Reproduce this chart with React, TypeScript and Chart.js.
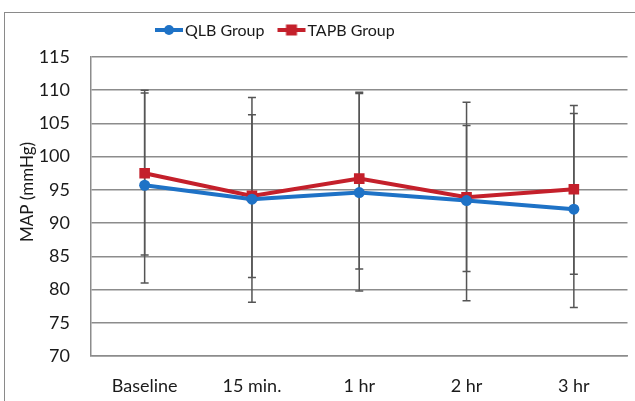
import React, { useEffect, useRef } from "react";
import { Chart, registerables } from "chart.js";

Chart.register(...registerables);

const categories = ["Baseline", "15 min.", "1 hr", "2 hr", "3 hr"];
const qlbMean = [95.7, 93.6, 94.6, 93.4, 92.1];
const qlbLow = [81.0, 78.1, 79.8, 78.3, 77.3];
const qlbHigh = [110.0, 108.9, 109.5, 108.2, 107.7];
const tapbMean = [97.5, 94.1, 96.7, 93.9, 95.1];
const tapbLow = [85.2, 81.8, 83.1, 82.7, 82.3];
const tapbHigh = [109.6, 106.3, 109.7, 104.7, 106.5];
const yTicks = [70, 75, 80, 85, 90, 95, 100, 105, 110, 115];
const yTitle = "MAP (mmHg)";
const legendLabels = ["QLB Group", "TAPB Group"];

const BLUE = "#1E72C6";
const RED = "#C4202B";
const FONT = "Lato";

function makeIcon(color: string, shape: "circle" | "square") {
  const c = document.createElement("canvas");
  c.width = 30;
  c.height = 14;
  const ctx = c.getContext("2d")!;
  ctx.strokeStyle = color;
  ctx.lineWidth = 4;
  ctx.beginPath();
  ctx.moveTo(1, 7);
  ctx.lineTo(29, 7);
  ctx.stroke();
  ctx.fillStyle = color;
  if (shape === "circle") {
    ctx.beginPath();
    ctx.arc(15, 7, 5, 0, Math.PI * 2);
    ctx.fill();
  } else {
    ctx.fillRect(9.5, 1.5, 11, 11);
  }
  return c;
}

const errorBarPlugin = {
  id: "errorBars",
  beforeDatasetsDraw(chart: any) {
    const ctx = chart.ctx;
    const x = chart.scales.x;
    const y = chart.scales.y;
    const sets = [
      [qlbLow, qlbHigh],
      [tapbLow, tapbHigh],
    ];
    ctx.save();
    ctx.strokeStyle = "#555555";
    ctx.lineWidth = 1.5;
    sets.forEach(([lo, hi]) => {
      categories.forEach((_, i) => {
        const px = x.getPixelForValue(i);
        const y1 = y.getPixelForValue(lo[i]);
        const y2 = y.getPixelForValue(hi[i]);
        ctx.beginPath();
        ctx.moveTo(px, y1);
        ctx.lineTo(px, y2);
        ctx.moveTo(px - 4, y1);
        ctx.lineTo(px + 4, y1);
        ctx.moveTo(px - 4, y2);
        ctx.lineTo(px + 4, y2);
        ctx.stroke();
      });
    });
    ctx.restore();
  },
};

export default function App() {
  const ref = useRef<HTMLCanvasElement>(null);
  useEffect(() => {
    const icons = [makeIcon(BLUE, "circle"), makeIcon(RED, "square")];
    const chart = new Chart(ref.current!, {
      type: "line",
      data: {
        labels: categories,
        datasets: [
          {
            label: legendLabels[0],
            data: qlbMean,
            borderColor: BLUE,
            backgroundColor: BLUE,
            borderWidth: 4,
            pointStyle: "circle",
            pointRadius: 5.5,
            pointBorderWidth: 0,
          },
          {
            label: legendLabels[1],
            data: tapbMean,
            borderColor: RED,
            backgroundColor: RED,
            borderWidth: 4,
            pointStyle: "rect",
            pointRadius: 7.5,
            pointBorderWidth: 0,
          },
        ],
      },
      options: {
        responsive: false,
        animation: false,
        layout: { padding: { top: 57, left: 0, right: 0, bottom: 0 } },
        plugins: {
          legend: { display: false },
          tooltip: { enabled: false },
        },
        scales: {
          x: {
            offset: true,
            grid: { display: false, drawTicks: false },
            border: { display: true, color: "#8c8c8c", width: 1.5 },
            ticks: { color: "#1a1a1a", font: { family: FONT, size: 18 }, padding: 19 },
            afterFit: (s: any) => {
              s.height = 45;
            },
          },
          y: {
            min: 70,
            max: 115,
            afterBuildTicks: (s: any) => {
              s.ticks = yTicks.map((v) => ({ value: v }));
            },
            grid: { color: "#8c8c8c", lineWidth: 1.5, drawTicks: false },
            border: { display: true, color: "#8c8c8c", width: 1.5 },
            ticks: { color: "#1a1a1a", font: { family: FONT, size: 18 }, padding: 21 },
            afterFit: (s: any) => {
              s.width = 91;
            },
          },
        },
      },
      plugins: [
        errorBarPlugin,
        {
          id: "customText",
          afterDraw(chart: any) {
            const ctx = chart.ctx;
            ctx.save();
            ctx.fillStyle = "#1a1a1a";
            ctx.textBaseline = "middle";
            ctx.textAlign = "center";
            ctx.font = `17px ${FONT}`;
            ctx.translate(28, 192);
            ctx.rotate(-Math.PI / 2);
            ctx.fillText(yTitle, 0, 0);
            ctx.restore();

            ctx.save();
            ctx.font = `16px ${FONT}`;
            ctx.fillStyle = "#1a1a1a";
            ctx.textBaseline = "middle";
            ctx.textAlign = "left";
            const gap = 12;
            let x = 154;
            const yc = 30;
            legendLabels.forEach((t, i) => {
              ctx.drawImage(icons[i], x, yc - 7);
              ctx.fillText(t, x + 31, yc + 1);
              x += 31 + ctx.measureText(t).width + gap;
            });
            ctx.restore();
          },
        },
      ],
    });
    return () => chart.destroy();
  }, []);

  return (
    <div style={{ position: "fixed", left: 0, top: 0, width: 635, height: 401, overflow: "hidden", background: "#fff" }}>
      <div
        style={{
          position: "absolute",
          left: 4,
          top: 12,
          width: 800,
          height: 800,
          border: "1.5px solid #8a8a8a",
        }}
      />
      <canvas ref={ref} width={635} height={401} style={{ position: "absolute", left: 0, top: 0 }} />
    </div>
  );
}
